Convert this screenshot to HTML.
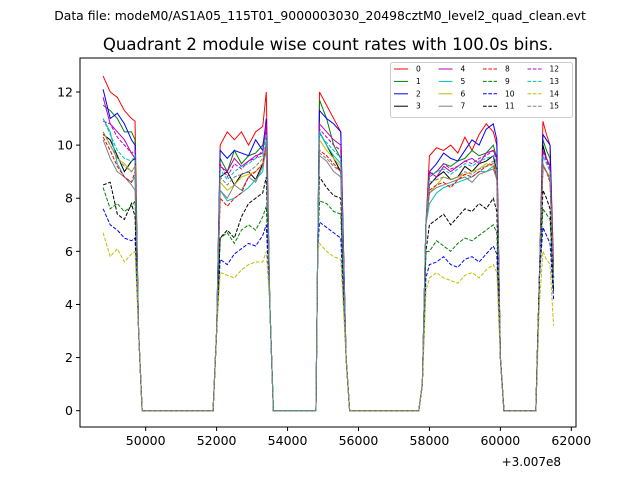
<!DOCTYPE html>
<html><head><meta charset="utf-8">
<style>
html,body{margin:0;padding:0;background:#fff;}
svg{display:block;font-family:"DejaVu Sans","Liberation Sans",sans-serif;}
</style></head>
<body>
<svg id="chart" width="640" height="480" viewBox="0 0 640 480">
<rect width="640" height="480" fill="#fff"/>
<text x="320" y="20" font-size="12.4" text-anchor="middle">Data file: modeM0/AS1A05_115T01_9000003030_20498cztM0_level2_quad_clean.evt</text>
<text x="328" y="50" font-size="16.6" text-anchor="middle">Quadrant 2 module wise count rates with 100.0s bins.</text>
<g id="plot"></g>
<rect x="80" y="58" width="496" height="369" fill="none" stroke="#000" stroke-width="1"/>
<g id="xticks"></g>
<g id="yticks"></g>
<text x="561" y="466" font-size="12" text-anchor="end">+3.007e8</text>
<g id="legend"></g>
</svg>
<script>
const times = [48800,49000,49200,49400,49600,49700,49800,49900,
 51900,52000,52100,52300,52500,52700,52900,53100,53300,53400,53500,53600,
 54800,54850,54900,55100,55300,55500,55650,55750,
 57700,57800,57900,58000,58200,58400,58600,58800,59000,59200,59400,59600,59800,59900,60000,60100,
 61000,61100,61200,61300,61400,61500];
const s0=[12.6,12.0,11.8,11.3,11.0,10.9,3,0, 0,3,10.0,10.5,10.2,10.5,10.0,10.5,10.7,12.0,4,0, 0,6,12.0,11.5,11.0,10.5,2,0, 0,1,7,9.6,9.9,9.8,10.0,9.7,10.3,9.8,10.4,10.8,10.5,10.0,2,0, 0,5,10.9,10.4,10.0,5.5];
const s1=[11.5,11.3,11.0,10.5,10.5,10.2,3,0, 0,3,9.5,9.0,9.8,9.3,9.6,9.7,10.0,10.8,4,0, 0,6,11.7,11.0,10.0,9.5,2,0, 0,1,7,8.8,9.0,9.3,9.2,9.4,9.5,9.8,9.6,9.7,10.0,9.5,2,0, 0,5,10.2,9.8,9.5,5];
const s2=[12.1,11.0,11.2,10.8,10.2,10.0,3,0, 0,3,9.8,9.5,9.8,9.7,9.6,10.2,9.8,11.0,4,0, 0,6,11.3,11.0,10.8,10.5,2,0, 0,1,7,9.0,9.3,9.7,9.5,9.4,9.8,10.2,10.0,10.6,10.8,10.2,2,0, 0,5,10.4,10.2,10.0,5];
const s3=[10.4,10.2,9.6,9.0,9.4,9.5,3,0, 0,3,8.8,9.0,8.5,8.9,9.0,8.7,9.3,10.0,4,0, 0,6,10.5,10.0,9.5,9.0,2,0, 0,1,7,8.5,8.8,9.0,8.7,8.8,9.2,9.0,9.3,9.4,9.6,9.0,2,0, 0,5,10.0,9.5,9.2,5];
const s4=[11.8,10.8,10.5,10.2,9.7,9.5,3,0, 0,3,9.2,9.0,9.5,9.2,9.4,9.6,9.7,10.8,4,0, 0,6,10.8,10.5,10.2,10.0,2,0, 0,1,7,9.0,8.8,9.2,9.0,9.2,9.4,9.5,9.3,9.7,9.8,9.5,2,0, 0,5,9.8,9.5,9.2,5];
const s5=[11.0,10.5,9.3,8.8,8.6,8.8,3,0, 0,3,8.3,7.9,8.0,8.2,8.4,8.7,9.0,10.2,4,0, 0,6,10.5,10.0,9.6,9.3,2,0, 0,1,7,7.8,8.2,8.4,8.5,8.6,8.7,8.8,9.0,9.0,9.2,8.8,2,0, 0,5,9.2,9.0,8.8,5];
const s6=[10.5,10.0,9.5,9.3,9.0,9.2,3,0, 0,3,8.6,8.3,8.5,8.8,8.9,9.0,9.3,9.8,4,0, 0,6,10.2,9.8,9.5,9.2,2,0, 0,1,7,8.2,8.5,8.8,8.7,8.8,8.9,9.0,9.1,9.3,9.2,9.0,2,0, 0,5,9.3,9.0,8.8,5];
const s7=[10.2,9.5,9.0,8.8,8.5,8.3,3,0, 0,3,8.3,8.0,8.5,8.3,8.8,8.6,9.2,9.8,4,0, 0,6,9.6,9.4,9.0,8.8,2,0, 0,1,7,8.2,8.4,8.5,8.6,8.7,8.8,8.6,8.9,9.0,9.1,8.7,2,0, 0,5,9.2,9.0,8.7,5];
const s8=[10.3,9.8,9.2,8.8,8.6,9.0,3,0, 0,3,8.0,7.7,8.0,8.2,8.8,9.0,9.3,10.0,4,0, 0,6,9.8,9.6,9.3,9.0,2,0, 0,1,7,8.3,8.5,8.6,8.4,8.7,8.9,8.8,9.0,9.2,9.3,8.8,2,0, 0,5,9.2,9.0,8.6,5];
const s9=[8.4,7.6,7.8,7.5,7.7,7.9,3,0, 0,3,6.5,6.7,6.3,6.8,7.0,6.8,7.3,7.7,4,0, 0,6,7.9,7.8,7.5,7.4,2,0, 0,1,6,6.0,6.4,6.2,6.0,6.3,6.5,6.4,6.6,6.8,7.0,6.7,2,0, 0,5,7.6,7.4,7.2,4.5];
const s10=[7.6,7.0,6.8,6.5,6.4,6.5,3,0, 0,3,5.7,5.5,5.9,6.1,6.3,6.2,6.6,7.0,4,0, 0,6,7.1,6.9,6.7,6.5,2,0, 0,1,5,5.5,5.6,5.8,5.5,5.4,5.7,5.8,5.6,5.9,6.2,5.9,2,0, 0,5,6.9,6.6,6.3,4.2];
const s11=[8.5,8.6,7.4,7.2,7.8,7.3,3,0, 0,3,6.5,6.8,6.5,7.3,7.8,8.0,8.2,8.8,4,0, 0,6,8.8,8.4,8.1,8.0,2,0, 0,1,6,7.0,7.2,7.4,7.0,7.3,7.6,7.5,7.8,7.6,8.0,7.5,2,0, 0,5,8.3,8.0,7.6,4.5];
const s12=[10.9,10.8,10.3,10.0,9.7,9.8,3,0, 0,3,9.3,8.8,9.3,9.1,9.4,9.5,9.8,10.6,4,0, 0,6,10.6,10.3,10.0,9.8,2,0, 0,1,7,8.9,9.0,9.3,9.1,9.2,9.4,9.3,9.5,9.6,9.8,9.4,2,0, 0,5,9.8,9.4,9.1,5];
const s13=[11.0,10.4,9.8,9.5,9.4,9.6,3,0, 0,3,9.1,8.7,9.0,9.2,9.3,9.5,9.6,10.4,4,0, 0,6,10.4,10.1,9.8,9.5,2,0, 0,1,7,8.8,9.0,9.1,8.9,9.1,9.3,9.2,9.4,9.5,9.6,9.3,2,0, 0,5,9.6,9.3,9.0,5];
const s14=[6.7,5.8,6.1,5.6,5.9,6.0,3,0, 0,3,5.2,5.1,5.0,5.3,5.5,5.6,5.6,6.0,4,0, 0,6,6.3,6.0,5.8,5.7,2,0, 0,1,4.5,5.0,5.2,5.0,4.9,4.8,5.1,5.2,5.0,5.3,5.5,5.2,2,0, 0,4,6.0,5.7,5.5,3.2];
const s15=[10.5,10.0,9.5,9.2,9.0,9.2,3,0, 0,3,8.8,8.5,8.8,8.9,9.0,9.2,9.5,10.0,4,0, 0,6,9.7,9.5,9.2,9.0,2,0, 0,1,7,8.6,8.7,8.8,8.7,8.8,9.0,8.9,9.1,9.2,9.4,9.0,2,0, 0,5,9.3,9.0,8.7,5];
const seriesLabels=["0","1","2","3","4","5","6","7","8","9","10","11","12","13","14","15"];
const xTickValues=[50000,52000,54000,56000,58000,60000,62000];
const yTickValues=[0,2,4,6,8,10,12];

const series=[s0,s1,s2,s3,s4,s5,s6,s7,s8,s9,s10,s11,s12,s13,s14,s15];
const colors=["#ff0000","#008000","#0000ff","#000000","#bf00bf","#00bfbf","#bfbf00","#808080"];
const NS="http://www.w3.org/2000/svg";
const X0=80,X1=576,Y0=58,Y1=427;
const xmin=48148,xmax=62132,ymin=-0.614,ymax=13.28;
function xs(v){return X0+(v-xmin)/(xmax-xmin)*(X1-X0);}
function ys(v){return Y1-(v-ymin)/(ymax-ymin)*(Y1-Y0);}
function mk(tag,attrs){const e=document.createElementNS(NS,tag);for(const k in attrs)e.setAttribute(k,attrs[k]);return e;}

const plot=document.getElementById('plot');
series.forEach((vals,i)=>{
  const d=vals.map((v,j)=>(j?'L':'M')+xs(times[j]).toFixed(2)+','+ys(v).toFixed(2)).join(' ');
  const p=mk('path',{d:d,fill:'none',stroke:colors[i%8],'stroke-width':1});
  if(i>=8)p.setAttribute('stroke-dasharray','3.7,1.6');
  
  
  plot.appendChild(p);
});

const xt=document.getElementById('xticks');
xTickValues.forEach(v=>{
  const x=xs(v);
  const t=mk('line',{x1:x,x2:x,y1:Y1,y2:Y1+4,stroke:'#000'});
  
  
  xt.appendChild(t);
  const l=mk('text',{x:x,y:Y1+18,'font-size':12.5,'text-anchor':'middle'});
  l.textContent=v;
  
  
  xt.appendChild(l);
});
const yt=document.getElementById('yticks');
yTickValues.forEach(v=>{
  const y=ys(v);
  const t=mk('line',{x1:X0-4,x2:X0,y1:y,y2:y,stroke:'#000'});
  
  
  yt.appendChild(t);
  const l=mk('text',{x:X0-7,y:y+4.5,'font-size':12.5,'text-anchor':'end'});
  l.textContent=v;
  
  
  yt.appendChild(l);
});

const lg=document.getElementById('legend');
const box=mk('rect',{x:390.5,y:62.5,width:182,height:55,rx:2,fill:'#fff','fill-opacity':0.8,stroke:'#ccc'});


lg.appendChild(box);
seriesLabels.forEach((lab,i)=>{
  const col=Math.floor(i/4),row=i%4;
  const x=394+col*44.5,y=69+row*12.4;
  const ln=mk('line',{x1:x,x2:x+14,y1:y,y2:y,stroke:colors[i%8],'stroke-width':1});
  if(i>=8)ln.setAttribute('stroke-dasharray','3.7,1.6');
  
  
  lg.appendChild(ln);
  const tx=mk('text',{x:x+22,y:y+2.5,'font-size':7.5});
  tx.textContent=lab;
  
  
  lg.appendChild(tx);
});
</script>
</body></html>
